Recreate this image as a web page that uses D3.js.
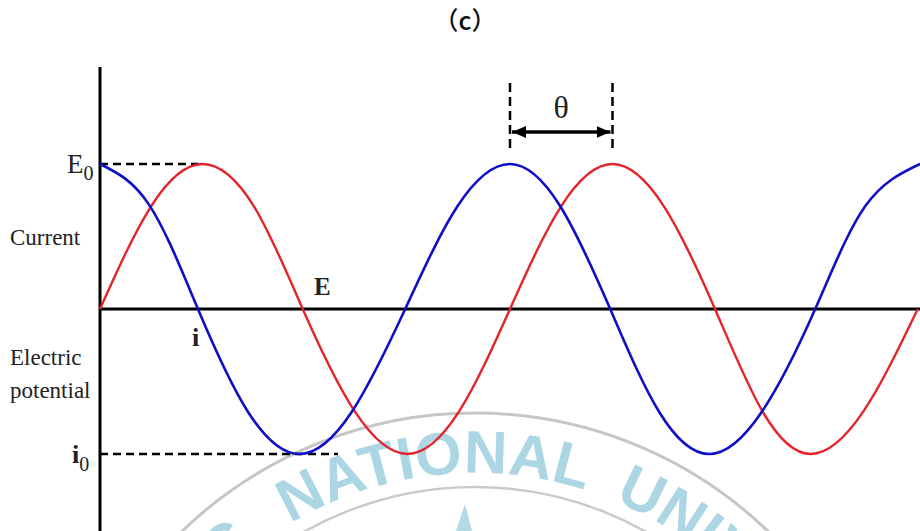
<!DOCTYPE html>
<html>
<head>
<meta charset="utf-8">
<script src="https://cdn.jsdelivr.net/npm/d3@7"></script>
<style>
  html, body { margin: 0; padding: 0; background: #fff; }
  svg { display: block; }
</style>
</head>
<body>
<svg id="chart" width="920" height="531"></svg>
<script>
// ---- data: phase in electrical degrees, amplitude relative to the peak ----
const title = "（c）";
const currentPhase   = [0, 43, 86, 130, 175, 221, 268, 314, 360, 404, 448, 491, 535, 581, 628, 672, 720];
const currentValue   = [1, 0.72, 0, -0.71, -1, -0.71, 0, 0.71, 1, 0.71, 0, -0.71, -1, -0.71, 0, 0.71, 1];
const potentialPhase = [0, 45, 90, 135, 178, 224, 270, 315, 360, 405, 450, 495, 540, 582, 624, 670, 718];
const potentialValue = [0, 0.71, 1, 0.71, 0, -0.71, -1, -0.71, 0, 0.71, 1, 0.71, 0, -0.71, -1, -0.71, 0];
const peakGuidePhase   = [0, 90];    // E0 guide, from the axis to the first potential peak
const troughGuidePhase = [0, 209];   // i0 guide, past the first current trough
const lagPhase = [360, 450];         // θ: current peak to potential peak
const sideLabels = ["Current", "Electric", "potential"];
const sealWords = ["G", "NATIONAL", "UNIVERSITY"];

const W = 920, H = 531;
const svg = d3.select("#chart");

const x = d3.scaleLinear().domain([0, 720]).range([100, 920]);
const y = d3.scaleLinear().domain([-1, 1]).range([454, 164]);

const serif = "'Liberation Serif', 'Times New Roman', serif";

// ---- faint seal in the background ----
const seal = svg.append("g").attr("class", "seal");
const cx = 475, cy = 835;
seal.append("circle").attr("cx", cx).attr("cy", cy).attr("r", 422)
  .attr("fill", "none").attr("stroke", "#c4c6c8").attr("stroke-width", 3);
seal.append("circle").attr("cx", cx).attr("cy", cy).attr("r", 348)
  .attr("fill", "none").attr("stroke", "#c8cacc").attr("stroke-width", 2.5);
const rText = 362;
seal.append("path").attr("id", "sealArc")
  .attr("d", `M${cx - rText},${cy} A${rText},${rText} 0 0 1 ${cx + rText},${cy}`)
  .attr("fill", "none");
const arcLen = deg => (90 + deg) * Math.PI / 180 * rText;
[
  { w: sealWords[0], at: -37, anchor: "end" },
  { w: sealWords[1], at: -6.5, anchor: "middle" },
  { w: sealWords[2], at: 22.5, anchor: "start" }
].forEach(d => {
  seal.append("text")
    .attr("font-family", "'Liberation Sans', Arial, sans-serif")
    .attr("font-weight", "bold").attr("font-size", 60).attr("fill", "#acd6e3")
    .append("textPath").attr("href", "#sealArc")
    .attr("startOffset", arcLen(d.at)).attr("text-anchor", d.anchor)
    .text(d.w);
});
seal.append("path")
  .attr("d", "M465,504 L472,531 L456,531 Z")
  .attr("fill", "#b4dae6");

// ---- title ----
svg.append("text")
  .attr("x", 465).attr("y", 30)
  .attr("text-anchor", "middle")
  .attr("font-family", "'Noto Sans CJK KR', 'Noto Sans', sans-serif")
  .attr("font-weight", 500).attr("font-size", 25).attr("fill", "#111")
  .text(title);

// ---- dashed guides ----
const dash = "8,5";
svg.append("line")
  .attr("x1", x(peakGuidePhase[0])).attr("x2", x(peakGuidePhase[1]))
  .attr("y1", y(1)).attr("y2", y(1))
  .attr("stroke", "#000").attr("stroke-width", 2.5).attr("stroke-dasharray", dash);
svg.append("line")
  .attr("x1", x(troughGuidePhase[0])).attr("x2", x(troughGuidePhase[1]))
  .attr("y1", y(-1)).attr("y2", y(-1))
  .attr("stroke", "#000").attr("stroke-width", 2.5).attr("stroke-dasharray", dash);
lagPhase.forEach(p => {
  svg.append("line")
    .attr("x1", x(p)).attr("x2", x(p))
    .attr("y1", 83).attr("y2", 153)
    .attr("stroke", "#000").attr("stroke-width", 2.5).attr("stroke-dasharray", "9,5");
});

// ---- θ arrow ----
const defs = svg.append("defs");
["start", "end"].forEach(k => {
  defs.append("marker").attr("id", "arrow-" + k)
    .attr("viewBox", "0 0 14 12").attr("refX", k === "end" ? 14 : 0).attr("refY", 6)
    .attr("markerWidth", 14).attr("markerHeight", 12).attr("markerUnits", "userSpaceOnUse")
    .attr("orient", "auto")
    .append("path")
    .attr("d", k === "end" ? "M0,0 L14,6 L0,12 Z" : "M14,0 L0,6 L14,12 Z")
    .attr("fill", "#000");
});
svg.append("line")
  .attr("x1", x(lagPhase[0]) + 2).attr("x2", x(lagPhase[1]) - 2)
  .attr("y1", 132).attr("y2", 132)
  .attr("stroke", "#000").attr("stroke-width", 3.4)
  .attr("marker-start", "url(#arrow-start)").attr("marker-end", "url(#arrow-end)");
svg.append("text")
  .attr("x", (x(lagPhase[0]) + x(lagPhase[1])) / 2).attr("y", 118)
  .attr("text-anchor", "middle")
  .attr("font-family", serif).attr("font-size", 32).attr("fill", "#222")
  .text("θ");

// ---- axes ----
svg.append("line")
  .attr("x1", x(0)).attr("x2", x(0)).attr("y1", 67).attr("y2", H)
  .attr("stroke", "#000").attr("stroke-width", 3);
svg.append("line")
  .attr("x1", x(0)).attr("x2", x(720)).attr("y1", y(0)).attr("y2", y(0))
  .attr("stroke", "#000").attr("stroke-width", 3);

// ---- waves ----
const line = d3.line().x(d => x(d[0])).y(d => y(d[1])).curve(d3.curveNatural);
svg.append("path")
  .datum(potentialPhase.map((p, i) => [p, potentialValue[i]]))
  .attr("d", line).attr("fill", "none")
  .attr("stroke", "#e3242b").attr("stroke-width", 2.4);
svg.append("path")
  .datum(currentPhase.map((p, i) => [p, currentValue[i]]))
  .attr("d", line).attr("fill", "none")
  .attr("stroke", "#0f0fc8").attr("stroke-width", 2.6);

// ---- labels ----
const lab = svg.append("g").attr("font-family", serif).attr("fill", "#222");
lab.append("text").attr("x", 10).attr("y", 245).attr("font-size", 23).text(sideLabels[0]);
lab.append("text").attr("x", 10).attr("y", 365).attr("font-size", 23).text(sideLabels[1]);
lab.append("text").attr("x", 10).attr("y", 398).attr("font-size", 23).text(sideLabels[2]);

const e0 = lab.append("text").attr("x", 67).attr("y", 173).attr("font-size", 27);
e0.append("tspan").text("E");
e0.append("tspan").attr("dy", 7).attr("font-size", 20).text("0");

const i0 = lab.append("text").attr("x", 72).attr("y", 463).attr("font-size", 26).attr("font-weight", "bold");
i0.append("tspan").text("i");
i0.append("tspan").attr("dy", 8).attr("font-size", 20).attr("font-weight", "normal").text("0");

lab.append("text").attr("x", 314).attr("y", 295).attr("font-size", 25)
  .attr("font-weight", "bold").text("E");
lab.append("text").attr("x", 192).attr("y", 346).attr("font-size", 26)
  .attr("font-weight", "bold").text("i");
</script>
</body>
</html>
